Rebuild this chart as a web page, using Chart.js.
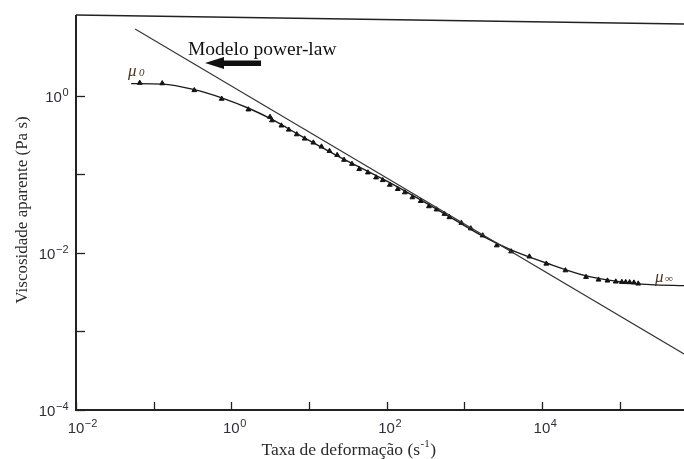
<!DOCTYPE html>
<html>
<head>
<meta charset="utf-8">
<script src="https://cdn.jsdelivr.net/npm/chart.js@4/dist/chart.umd.min.js"></script>
<style>
  html, body { margin: 0; padding: 0; background: #fff; }
  canvas { display: block; }
</style>
</head>
<body>
<canvas id="visc-chart" width="684" height="459"></canvas>
<script>
// shear rate (1/s) and apparent viscosity (Pa s)
const dataX = [0.0662, 0.129, 0.334, 0.752, 1.66, 3.15, 3.34, 4.42, 5.5, 6.97, 8.81, 11.4, 14.5, 18.4, 23.1, 28.3, 35.8, 44.4, 57.4, 73.2, 89.2, 110, 139, 172, 215, 275, 351, 440, 557, 645, 918, 1214, 1729, 2624, 4018, 6902, 11400, 20100, 37000, 53600, 69800, 89400, 107000, 120000, 135000, 153000, 174000];
const dataY = [1.45, 1.43, 1.17, 0.91, 0.665, 0.535, 0.483, 0.415, 0.368, 0.321, 0.283, 0.252, 0.224, 0.197, 0.175, 0.152, 0.135, 0.116, 0.105, 0.0908, 0.0839, 0.0732, 0.0646, 0.0586, 0.0507, 0.0455, 0.039, 0.0355, 0.0312, 0.0283, 0.024, 0.0204, 0.0166, 0.0124, 0.0104, 0.00895, 0.00726, 0.00597, 0.00492, 0.00455, 0.00442, 0.0043, 0.00425, 0.00423, 0.00421, 0.00417, 0.00405];

// fitted model curve
const fitX = [0.0513, 0.131, 0.334, 0.767, 1.70, 3.34, 8.07, 22.6, 101, 440, 1702, 4000, 11190, 36200, 98600, 250000, 676000];
const fitY = [1.42, 1.40, 1.19, 0.93, 0.685, 0.497, 0.303, 0.174, 0.0815, 0.036, 0.0164, 0.0109, 0.00747, 0.00512, 0.0043, 0.00394, 0.00382];

// power-law model line
const powerX = [0.0577, 676000];
const powerY = [7.05, 5.16e-4];

const xTickExps = [-2, -1, 0, 1, 2, 3, 4, 5];
const xLabelExps = [-2, 0, 2, 4];
const yTickExps = [-4, -3, -2, -1, 0];
const yLabelExps = [-4, -2, 0];

const xTitle = "Taxa de deformação (s";
const yTitle = "Viscosidade aparente (Pa s)";
const powerLabel = "Modelo power-law";

const toPoints = (xs, ys) => xs.map((x, i) => ({ x, y: ys[i] }));

const drawPow = (ctx, x, y, exp, align) => {
  const base = "10";
  const sup = exp < 0 ? "\u2212" + Math.abs(exp) : String(exp);
  ctx.font = "15px 'Liberation Sans', Arial, sans-serif";
  const bw = ctx.measureText(base).width;
  ctx.font = "11px 'Liberation Sans', Arial, sans-serif";
  const sw = ctx.measureText(sup).width;
  let x0 = x;
  if (align === "right") x0 = x - bw - sw;
  if (align === "center") x0 = x - bw / 2;
  ctx.textAlign = "left";
  ctx.textBaseline = "alphabetic";
  ctx.font = "15px 'Liberation Sans', Arial, sans-serif";
  ctx.fillText(base, x0, y);
  ctx.font = "11px 'Liberation Sans', Arial, sans-serif";
  ctx.fillText(sup, x0 + bw + 0.5, y - 6);
};

const framePlugin = {
  id: "frame",
  afterDraw(chart) {
    const { ctx, chartArea: a, scales } = chart;
    const sx = scales.x;
    const sy = scales.y;
    ctx.save();

    // frame
    ctx.strokeStyle = "#222";
    ctx.lineWidth = 2;
    ctx.beginPath();
    ctx.moveTo(a.left, a.top - 2);
    ctx.lineTo(a.left, a.bottom);
    ctx.lineTo(a.right, a.bottom);
    ctx.stroke();
    ctx.lineWidth = 1.5;
    ctx.beginPath();
    ctx.moveTo(a.left, a.top - 2);
    ctx.lineTo(a.right, a.top + 7);
    ctx.stroke();

    // inward ticks
    ctx.lineWidth = 1.3;
    xTickExps.forEach((e) => {
      const px = Math.round(sx.getPixelForValue(Math.pow(10, e))) + 0.5;
      ctx.beginPath();
      ctx.moveTo(px, a.bottom);
      ctx.lineTo(px, a.bottom - 8);
      ctx.stroke();
    });
    yTickExps.forEach((e) => {
      const py = Math.round(sy.getPixelForValue(Math.pow(10, e))) + 0.5;
      ctx.beginPath();
      ctx.moveTo(a.left, py);
      ctx.lineTo(a.left + 9, py);
      ctx.stroke();
    });

    // tick labels
    ctx.fillStyle = "#2e2e3e";
    xLabelExps.forEach((e) => {
      const px = sx.getPixelForValue(Math.pow(10, e));
      drawPow(ctx, px, a.bottom + 23, e, "center");
    });
    yLabelExps.forEach((e) => {
      const py = sy.getPixelForValue(Math.pow(10, e));
      drawPow(ctx, a.left - 8, py + 6, e, "right");
    });

    // axis titles
    ctx.fillStyle = "#2a2a2a";
    ctx.font = "17.5px 'Liberation Serif', 'Times New Roman', serif";
    ctx.textBaseline = "alphabetic";
    ctx.textAlign = "left";
    const tw = ctx.measureText(xTitle + "-1)").width;
    const tx = 351 - tw / 2;
    ctx.fillText(xTitle, tx, 455);
    let cx = tx + ctx.measureText(xTitle).width;
    ctx.font = "11px 'Liberation Serif', 'Times New Roman', serif";
    ctx.fillText("-1", cx + 0.5, 447);
    cx += ctx.measureText("-1").width + 1;
    ctx.font = "17.5px 'Liberation Serif', 'Times New Roman', serif";
    ctx.fillText(")", cx, 455);

    ctx.save();
    ctx.translate(27, 210);
    ctx.rotate(-Math.PI / 2);
    ctx.textAlign = "center";
    ctx.font = "17px 'Liberation Serif', 'Times New Roman', serif";
    ctx.fillText(yTitle, 0, 0);
    ctx.restore();

    // annotations
    ctx.fillStyle = "#111";
    ctx.font = "19.5px 'Liberation Serif', 'Times New Roman', serif";
    ctx.textAlign = "left";
    ctx.fillText(powerLabel, 188, 55);

    // arrow pointing left
    ctx.beginPath();
    ctx.moveTo(205, 63);
    ctx.lineTo(224, 57);
    ctx.lineTo(224, 60.5);
    ctx.lineTo(261, 60.5);
    ctx.lineTo(261, 66);
    ctx.lineTo(224, 66);
    ctx.lineTo(224, 69);
    ctx.closePath();
    ctx.fill();

    ctx.fillStyle = "#4a3520";
    ctx.font = "italic 17px 'Liberation Serif', 'Times New Roman', serif";
    ctx.fillText("\u03bc", 128, 76);
    ctx.font = "italic 11px 'Liberation Serif', 'Times New Roman', serif";
    ctx.fillText("0", 139, 76);
    ctx.font = "italic 17px 'Liberation Serif', 'Times New Roman', serif";
    ctx.fillText("\u03bc", 655, 282);
    ctx.font = "italic 11px 'Liberation Serif', 'Times New Roman', serif";
    ctx.fillText("\u221e", 665, 282);

    ctx.restore();
  },
};

new Chart(document.getElementById("visc-chart"), {
  type: "scatter",
  data: {
    datasets: [
      {
        label: "Power-law",
        data: toPoints(powerX, powerY),
        showLine: true,
        borderColor: "#333",
        borderWidth: 1.1,
        pointRadius: 0,
      },
      {
        label: "Modelo",
        data: toPoints(fitX, fitY),
        showLine: true,
        borderColor: "#1a1a1a",
        borderWidth: 1.4,
        pointRadius: 0,
        cubicInterpolationMode: "monotone",
      },
      {
        label: "Dados",
        data: toPoints(dataX, dataY),
        showLine: false,
        pointStyle: "triangle",
        pointRadius: 2.8,
        backgroundColor: "#111",
        borderColor: "#111",
        borderWidth: 1,
      },
    ],
  },
  options: {
    responsive: false,
    animation: false,
    devicePixelRatio: 1,
    layout: { autoPadding: false, padding: { left: 76, right: 0, top: 17, bottom: 49 } },
    scales: {
      x: { type: "logarithmic", display: false, min: 0.01, max: 676000 },
      y: { type: "logarithmic", display: false, min: 1e-4, max: 10 },
    },
    plugins: {
      legend: { display: false },
      tooltip: { enabled: false },
    },
  },
  plugins: [framePlugin],
});
</script>
</body>
</html>
